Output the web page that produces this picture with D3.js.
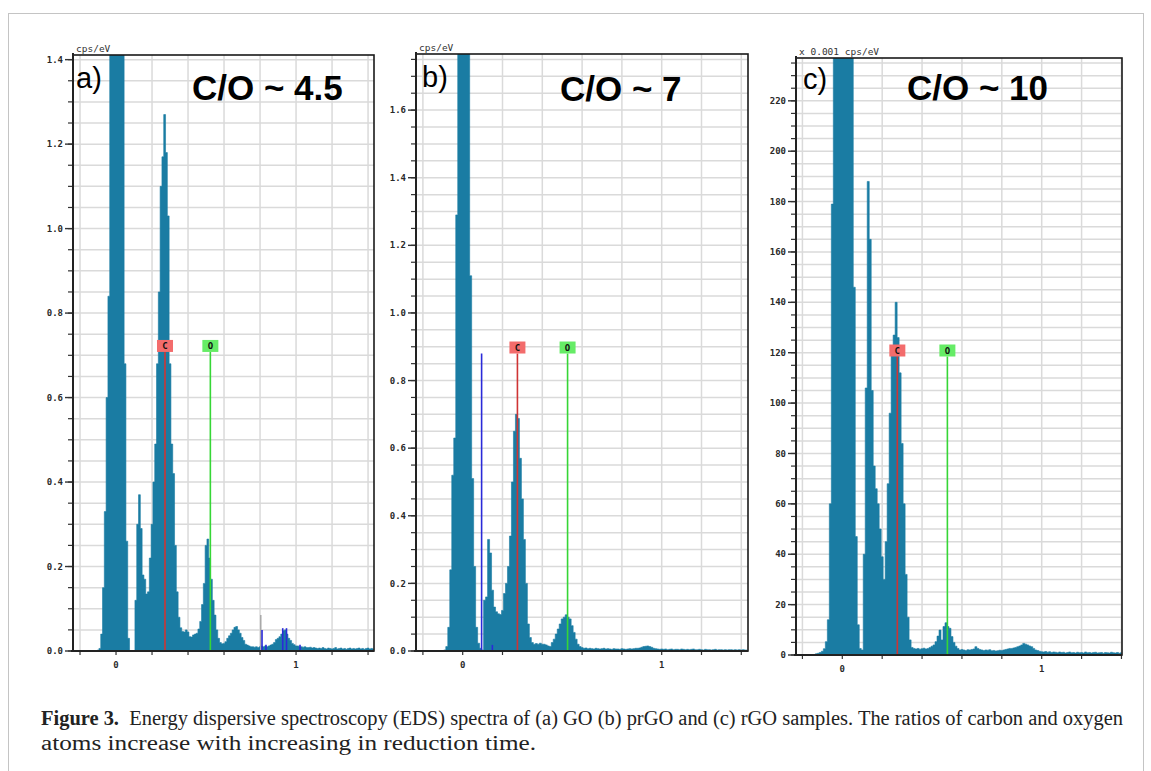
<!DOCTYPE html>
<html>
<head>
<meta charset="utf-8">
<script src="https://cdn.jsdelivr.net/npm/d3@7"></script>
<style>
  body { margin: 0; background: #fff; }
  svg { display: block; }
</style>
</head>
<body>
<svg id="fig" width="1151" height="771"></svg>
<script>
'use strict';

// ---- data ----
// EDS channels: 10 eV wide, first channel at -0.14 keV
const channelStart = -0.14;
const channelWidth = 0.01;

// (a) GO, cps/eV
const spectrumA = [
    0, 0,
    0, 0, 0.002, 0.006, 0.04, 0.15, 0.33, 0.6, 0.84, 1.8,
    2.1, 2.3, 2.4, 2.3, 2.1, 1.9, 1.5, 0.68, 0.26, 0.03,
    0, 0, 0, 0.12, 0.30, 0.37, 0.29, 0.18, 0.17, 0.135,
    0.14, 0.22, 0.30, 0.40, 0.49, 0.68, 0.85, 1.1, 1.17, 1.27,
    1.18, 1.03, 0.68, 0.49, 0.42, 0.25, 0.14, 0.08, 0.055, 0.046,
    0.045, 0.05, 0.045, 0.034, 0.033, 0.038, 0.04, 0.042, 0.052, 0.07,
    0.11, 0.16, 0.25, 0.265, 0.22, 0.17, 0.12, 0.085, 0.05, 0.03,
    0.02, 0.017, 0.018, 0.022, 0.03, 0.036, 0.042, 0.05, 0.056, 0.058,
    0.05, 0.042, 0.032, 0.025, 0.016, 0.014, 0.012, 0.01, 0.01, 0.009,
    0.01, 0.008, 0.01, 0.012, 0.01, 0.012, 0.01, 0.012, 0.014, 0.016,
    0.02, 0.027, 0.03, 0.034, 0.04, 0.048, 0.05, 0.04, 0.03, 0.025,
    0.018, 0.015, 0.012, 0.012, 0.01, 0.01, 0.009, 0.01, 0.008, 0.008,
    0.009, 0.007, 0.008, 0.007, 0.006, 0.007, 0.006, 0.008, 0.006, 0.005,
    0.007, 0.006, 0.005, 0.006, 0.008, 0.005, 0.006, 0.007, 0.005, 0.006,
    0.004, 0.006, 0.007, 0.005, 0.006, 0.005, 0.006, 0.007, 0.005, 0.006,
    0.004, 0.006, 0.007, 0.005, 0.006, 0.005
];

// (b) prGO, cps/eV
const spectrumB = [
    0, 0,
    0, 0, 0, 0.003, 0.013, 0.07, 0.24, 0.52, 0.63, 1.29,
    2.2, 2.5, 2.6, 2.5, 2.3, 2.0, 1.11, 0.51, 0.25, 0.07,
    0.023, 0.008, 0.003, 0.15, 0.16, 0.33, 0.29, 0.18, 0.13, 0.116,
    0.11, 0.108, 0.12, 0.17, 0.2, 0.25, 0.34, 0.5, 0.65, 0.7,
    0.688, 0.57, 0.45, 0.33, 0.2, 0.08, 0.04, 0.025, 0.02, 0.022,
    0.02, 0.023, 0.02, 0.02, 0.018, 0.015, 0.013, 0.025, 0.035, 0.05,
    0.065, 0.08, 0.095, 0.1, 0.107, 0.1, 0.095, 0.075, 0.055, 0.035,
    0.02, 0.013, 0.01, 0.008, 0.009, 0.007, 0.008, 0.007, 0.006, 0.008,
    0.007, 0.006, 0.007, 0.008, 0.006, 0.007, 0.006, 0.005, 0.007, 0.006,
    0.006, 0.005, 0.007, 0.006, 0.005, 0.006, 0.007, 0.006, 0.007, 0.008,
    0.008, 0.009, 0.011, 0.013, 0.014, 0.015, 0.013, 0.011, 0.008, 0.007,
    0.006, 0.005, 0.006, 0.005, 0.006, 0.004, 0.005, 0.006, 0.004, 0.005,
    0.005, 0.004, 0.006, 0.005, 0.004, 0.005, 0.004, 0.005, 0.006, 0.004,
    0.004, 0.005, 0.004, 0.003, 0.005, 0.004, 0.004, 0.003, 0.004, 0.005,
    0.003, 0.004, 0.004, 0.003, 0.004, 0.003, 0.004, 0.004, 0.003, 0.004,
    0.003, 0.004, 0.003, 0.004, 0.003, 0.003
];

// (c) rGO, x 0.001 cps/eV
const spectrumC = [
    0, 0.5, 0.7, 1, 1.5, 2.5, 5.3, 14, 60, 179,
    300, 310, 320, 320, 315, 310, 300, 290, 280, 260,
    146, 47, 12, 2.6, 2, 40, 106, 188, 165, 105,
    75, 66, 60, 50, 39, 30, 45, 68, 96, 122,
    127, 140, 126, 112, 84, 60, 32, 15, 6, 3,
    2.6, 2.4, 2.6, 2.3, 2.5, 2.7, 2.4, 2.6, 3, 3.5,
    4, 5.3, 7.5, 9.9, 6, 11.3, 12.8, 11.3, 10.6, 7.3,
    5, 3.5, 2.6, 2, 2.2, 2, 1.8, 2.1, 2, 2.2,
    2.4, 3.3, 2.6, 2.2, 2, 1.8, 2, 1.9, 2.1, 1.7,
    1.8, 1.6, 1.7, 1.9, 1.8, 2, 2.2, 2.4, 2.6, 2.6,
    2.8, 3, 3.3, 3.6, 4, 4.6, 4.3, 4, 3.6, 3.3,
    2.6, 2, 1.8, 1.5, 1.3, 1.2, 1.4, 1.1, 1.3, 1,
    1.2, 1.1, 0.9, 1.2, 1, 1.1, 0.8, 1, 1.2, 0.9,
    1, 0.8, 1.1, 0.9, 1, 0.8, 1.2, 0.9, 1, 0.8,
    1, 1.1, 0.8, 0.9, 1, 0.7, 1, 0.9, 0.8, 1.1,
    0.9, 0.8, 1, 0.7, 0.9
];

// element markers [symbol, keV, marker height]
const markersA = [['C', 0.272, 0.708], ['O', 0.524, 0.708]];
const markersB = [['C', 0.275, 0.88], ['O', 0.527, 0.88]];
const markersC = [['C', 0.276, 118.5], ['O', 0.527, 118.5]];

// thin line markers [keV, height]
const blueLinesA = [[0.811, 0.05], [0.833, 0.015], [0.926, 0.054], [0.947, 0.054], [1.022, 0.015]];
const greyLinesA = [[0.804, 0.085]];
const blueLinesB = [[0.095, 0.88], [0.149, 0.018]];

const xTickLabels = [0, 1];
const yTicksA = [0, 0.2, 0.4, 0.6, 0.8, 1.0, 1.2, 1.4];
const yTicksB = [0, 0.2, 0.4, 0.6, 0.8, 1.0, 1.2, 1.4, 1.6];
const yTicksC = [0, 20, 40, 60, 80, 100, 120, 140, 160, 180, 200, 220];

const ratioLabels = ['C/O ~ 4.5', 'C/O ~ 7', 'C/O ~ 10'];
const panelLetters = ['a)', 'b)', 'c)'];
const unitLabels = ['cps/eV', 'cps/eV', 'x 0.001 cps/eV'];

// ---- layout ----
const panels = [
    { id: 'a', values: spectrumA, markers: markersA, blue: blueLinesA, grey: greyLinesA,
      yTicks: yTicksA, yMinor: 0.05, fmt: d3.format('.1f'),
      left: 73, right: 374, top: 55, bottom: 651,
      xDomain: [-0.239, 1.433], yDomain: [0, 1.411],
      letterPos: [76, 88], ratioPos: [192, 100] },
    { id: 'b', values: spectrumB, markers: markersB, blue: blueLinesB, grey: [],
      yTicks: yTicksB, yMinor: 0.05, fmt: d3.format('.1f'),
      left: 416, right: 748, top: 54, bottom: 651,
      xDomain: [-0.2347, 1.4337], yDomain: [0, 1.766],
      letterPos: [422, 87], ratioPos: [560, 101] },
    { id: 'c', values: spectrumC, markers: markersC, blue: [], grey: [],
      yTicks: yTicksC, yMinor: 5, fmt: d3.format('d'),
      left: 796, right: 1122, top: 58, bottom: 655,
      xDomain: [-0.2322, 1.4027], yDomain: [0, 237],
      letterPos: [803, 89], ratioPos: [907, 100] }
];

const svg = d3.select('#fig');

// outer figure frame
svg.append('rect')
    .attr('x', 8.5).attr('y', 13.5)
    .attr('width', 1135).attr('height', 800)
    .attr('fill', 'none').attr('stroke', '#c4c4c4').attr('stroke-width', 1);

function drawPanel(p, i) {
    const x = d3.scaleLinear().domain(p.xDomain).range([p.left, p.right]);
    const y = d3.scaleLinear().domain(p.yDomain).range([p.bottom, p.top]);
    const g = svg.append('g').attr('class', 'panel-' + p.id);

    svg.append('clipPath').attr('id', 'clip-' + p.id)
        .append('rect')
        .attr('x', p.left).attr('y', p.top)
        .attr('width', p.right - p.left).attr('height', p.bottom - p.top);

    // grid
    const nMinor = Math.floor(p.yDomain[1] / p.yMinor + 1e-6);
    const yMinorTicks = d3.range(0, nMinor + 1).map(k => k * p.yMinor);
    const xGrid = d3.range(-1, 8).map(k => k * 0.2).filter(v => v > p.xDomain[0] && v < p.xDomain[1]);

    g.append('g').selectAll('line').data(yMinorTicks.slice(1)).join('line')
        .attr('x1', p.left).attr('x2', p.right)
        .attr('y1', d => y(d)).attr('y2', d => y(d))
        .attr('stroke', '#dadada').attr('stroke-width', 1.5);
    g.append('g').selectAll('line').data(xGrid).join('line')
        .attr('x1', d => x(d)).attr('x2', d => x(d))
        .attr('y1', p.top).attr('y2', p.bottom)
        .attr('stroke', '#dadada').attr('stroke-width', 1.5);

    // spectrum as a step histogram
    const pts = p.values.map((v, k) => [channelStart + k * channelWidth, v]);
    const area = d3.area()
        .curve(d3.curveStep)
        .x(d => x(d[0]))
        .y0(y(0))
        .y1(d => y(d[1]));
    const plot = g.append('g').attr('clip-path', 'url(#clip-' + p.id + ')');
    plot.append('path').datum(pts)
        .attr('d', area)
        .attr('fill', '#1a7ca3')
        .attr('stroke', '#1a7ca3').attr('stroke-width', 0.6);

    // thin peak lines
    plot.selectAll('line.grey').data(p.grey).join('line').attr('class', 'grey')
        .attr('x1', d => x(d[0])).attr('x2', d => x(d[0]))
        .attr('y1', y(0)).attr('y2', d => y(d[1]))
        .attr('stroke', '#a8a8a8').attr('stroke-width', 1.5);
    plot.selectAll('line.blue').data(p.blue).join('line').attr('class', 'blue')
        .attr('x1', d => x(d[0])).attr('x2', d => x(d[0]))
        .attr('y1', y(0)).attr('y2', d => y(d[1]))
        .attr('stroke', '#2a2ad8').attr('stroke-width', 1.6);

    // element markers
    const colors = { C: ['#cf3434', '#f36c6c'], O: ['#36d636', '#66ec66'] };
    const mk = plot.selectAll('g.marker').data(p.markers).join('g').attr('class', 'marker');
    mk.append('line')
        .attr('x1', d => x(d[1])).attr('x2', d => x(d[1]))
        .attr('y1', y(0)).attr('y2', d => y(d[2]))
        .attr('stroke', d => colors[d[0]][0]).attr('stroke-width', 1.6);
    mk.append('rect')
        .attr('x', d => x(d[1]) - 8).attr('y', d => y(d[2]) - 12)
        .attr('width', 16).attr('height', 12)
        .attr('fill', d => colors[d[0]][1]);
    mk.append('text')
        .attr('x', d => x(d[1])).attr('y', d => y(d[2]) - 2.5)
        .attr('text-anchor', 'middle')
        .attr('font-family', 'DejaVu Sans Mono').attr('font-weight', 'bold')
        .attr('font-size', 9).attr('fill', '#111')
        .text(d => d[0]);

    // frame
    g.append('rect')
        .attr('x', p.left).attr('y', p.top)
        .attr('width', p.right - p.left).attr('height', p.bottom - p.top)
        .attr('fill', 'none').attr('stroke', '#1a1a1a').attr('stroke-width', 1.6);

    // y axis ticks
    g.append('g').selectAll('line').data(yMinorTicks).join('line')
        .attr('x1', p.left - 5).attr('x2', p.left)
        .attr('y1', d => y(d)).attr('y2', d => y(d))
        .attr('stroke', '#333').attr('stroke-width', 1.2);
    g.append('g').selectAll('line').data(p.yTicks).join('line')
        .attr('x1', p.left - 8).attr('x2', p.left)
        .attr('y1', d => y(d)).attr('y2', d => y(d))
        .attr('stroke', '#333').attr('stroke-width', 1.4);
    g.append('g').selectAll('text').data(p.yTicks).join('text')
        .attr('x', p.left - 10).attr('y', d => y(d)).attr('dy', '0.35em')
        .attr('text-anchor', 'end')
        .attr('font-family', 'DejaVu Sans Mono').attr('font-weight', 'bold')
        .attr('font-size', 9).attr('fill', '#2a2a2a')
        .text(d => p.fmt(d));

    // x axis ticks
    g.append('g').selectAll('line').data(xGrid).join('line')
        .attr('x1', d => x(d)).attr('x2', d => x(d))
        .attr('y1', p.bottom).attr('y2', p.bottom + 4)
        .attr('stroke', '#333').attr('stroke-width', 1.2);
    g.append('g').selectAll('text').data(xTickLabels).join('text')
        .attr('x', d => x(d)).attr('y', p.bottom + 17)
        .attr('text-anchor', 'middle')
        .attr('font-family', 'DejaVu Sans Mono').attr('font-weight', 'bold')
        .attr('font-size', 9).attr('fill', '#2a2a2a')
        .text(d => d);

    // axis lines
    g.append('line')
        .attr('x1', p.left).attr('x2', p.left).attr('y1', p.top - 2).attr('y2', p.bottom)
        .attr('stroke', '#222').attr('stroke-width', 2);
    g.append('line')
        .attr('x1', p.left - 2).attr('x2', p.right).attr('y1', p.bottom).attr('y2', p.bottom)
        .attr('stroke', '#222').attr('stroke-width', 2);

    // unit label
    g.append('text')
        .attr('x', p.left + 3).attr('y', p.top - 3)
        .attr('font-family', 'DejaVu Sans Mono').attr('font-size', 9.5).attr('fill', '#333')
        .text(unitLabels[i]);

    // panel letter and C/O ratio
    g.append('text')
        .attr('x', p.letterPos[0]).attr('y', p.letterPos[1])
        .attr('font-family', 'Liberation Sans').attr('font-size', 29).attr('fill', '#000')
        .text(panelLetters[i]);
    g.append('text')
        .attr('x', p.ratioPos[0]).attr('y', p.ratioPos[1])
        .attr('font-family', 'Liberation Sans').attr('font-weight', 'bold')
        .attr('font-size', 35).attr('fill', '#000')
        .text(ratioLabels[i]);
}

panels.forEach(drawPanel);

// caption
const cap1 = svg.append('text')
    .attr('x', 41).attr('y', 725)
    .attr('font-family', 'Liberation Serif').attr('font-size', 20).attr('fill', '#222')
    .attr('textLength', 1082).attr('lengthAdjust', 'spacingAndGlyphs');
cap1.append('tspan').attr('font-weight', 'bold').text('Figure 3.');
cap1.append('tspan').text('\u2002Energy dispersive spectroscopy (EDS) spectra of (a) GO (b) prGO and (c) rGO samples. The ratios of carbon and oxygen');

svg.append('text')
    .attr('x', 41).attr('y', 750)
    .attr('font-family', 'Liberation Serif').attr('font-size', 20).attr('fill', '#222')
    .attr('textLength', 495).attr('lengthAdjust', 'spacingAndGlyphs')
    .text('atoms increase with increasing in reduction time.');
</script>
</body>
</html>
